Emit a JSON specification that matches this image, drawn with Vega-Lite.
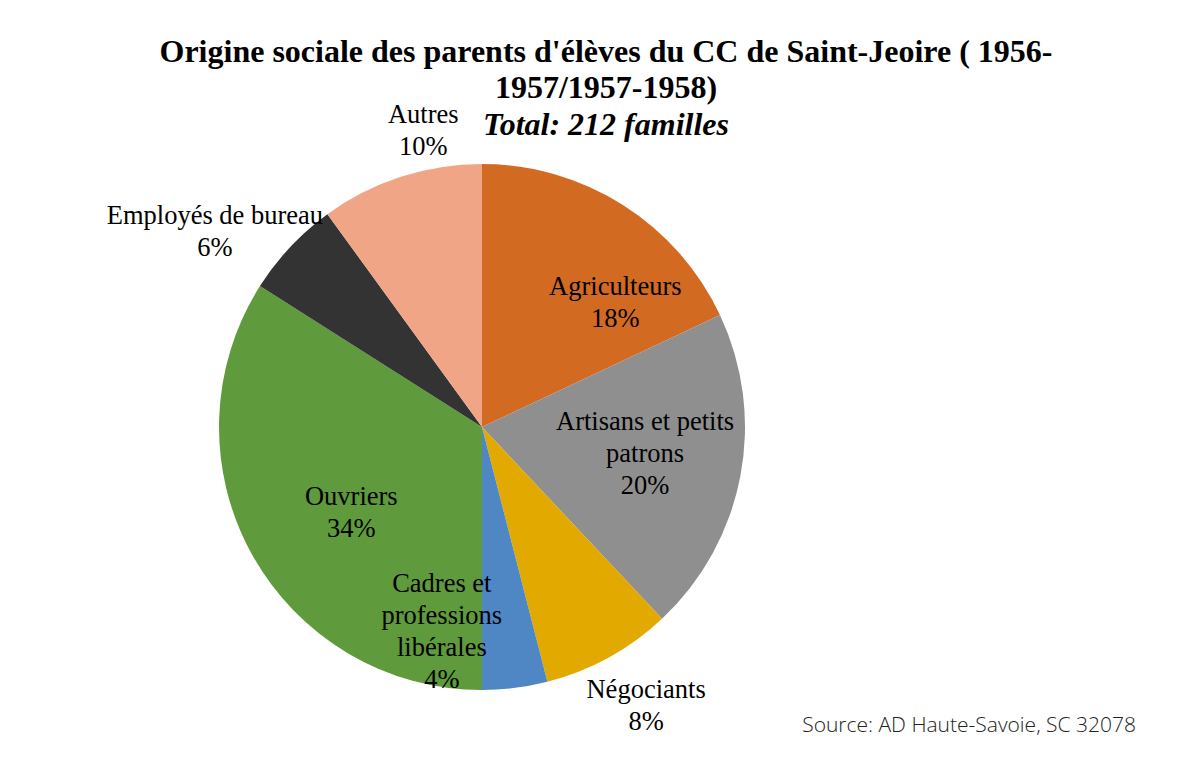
{
  "$schema": "https://vega.github.io/schema/vega-lite/v6.json",
  "width": 964,
  "height": 554,
  "autosize": {"type": "none"},
  "padding": {"left": 0, "top": 150, "right": 228, "bottom": 54},
  "background": "white",
  "config": {"view": {"stroke": null}},
  "title": {
    "text": ["Origine sociale des parents d'élèves du CC de Saint-Jeoire ( 1956-", "1957/1957-1958)"],
    "subtitle": "Total: 212 familles",
    "anchor": "middle",
    "dx": 124,
    "offset": -57,
    "font": "Liberation Serif",
    "fontSize": 32,
    "fontWeight": "bold",
    "color": "#000000",
    "lineHeight": 36,
    "subtitleFont": "Liberation Serif",
    "subtitleFontSize": 32,
    "subtitleFontWeight": "bold",
    "subtitleFontStyle": "italic",
    "subtitleColor": "#000000",
    "subtitleLineHeight": 36,
    "subtitlePadding": 5
  },
  "data": {
    "values": [
      {"cat": "Agriculteurs", "pct": 18, "rank": 1, "label": "Agriculteurs\n18%"},
      {"cat": "Artisans et petits patrons", "pct": 20, "rank": 2, "label": "Artisans et petits\npatrons\n20%"},
      {"cat": "Négociants", "pct": 8, "rank": 3, "label": "Négociants\n8%"},
      {"cat": "Cadres et professions libérales", "pct": 4, "rank": 4, "label": "Cadres et\nprofessions\nlibérales\n4%"},
      {"cat": "Ouvriers", "pct": 34, "rank": 5, "label": "Ouvriers\n34%"},
      {"cat": "Employés de bureau", "pct": 6, "rank": 6, "label": "Employés de bureau\n6%"},
      {"cat": "Autres", "pct": 10, "rank": 7, "label": "Autres\n10%"}
    ]
  },
  "layer": [
    {
      "mark": {"type": "arc", "radius": 263},
      "encoding": {
        "theta": {"field": "pct", "type": "quantitative", "stack": true},
        "order": {"field": "rank", "type": "quantitative"},
        "color": {
          "field": "cat",
          "type": "nominal",
          "scale": {
            "domain": ["Agriculteurs", "Artisans et petits patrons", "Négociants", "Cadres et professions libérales", "Ouvriers", "Employés de bureau", "Autres"],
            "range": ["#D26A22", "#8F8F8F", "#E2AA00", "#4F86C4", "#5F9A3C", "#333333", "#F0A586"]
          },
          "legend": null
        }
      }
    },
    {
      "mark": {"type": "text", "radius": 176, "dx": 39, "dy": 9, "font": "Liberation Serif", "fontSize": 26.5, "lineHeight": 32, "lineBreak": "\n", "align": "center", "baseline": "middle", "color": "#000000"},
      "encoding": {
        "theta": {"field": "pct", "type": "quantitative", "stack": true},
        "order": {"field": "rank", "type": "quantitative"},
        "detail": {"field": "cat", "type": "nominal"},
        "text": {"condition": {"test": "datum.cat === 'Agriculteurs'", "field": "label"}, "value": ""}
      }
    },
    {
      "mark": {"type": "text", "radius": 166, "dx": 0, "dy": -36, "font": "Liberation Serif", "fontSize": 26.5, "lineHeight": 32, "lineBreak": "\n", "align": "center", "baseline": "middle", "color": "#000000"},
      "encoding": {
        "theta": {"field": "pct", "type": "quantitative", "stack": true},
        "order": {"field": "rank", "type": "quantitative"},
        "detail": {"field": "cat", "type": "nominal"},
        "text": {"condition": {"test": "datum.cat === 'Artisans et petits patrons'", "field": "label"}, "value": ""}
      }
    },
    {
      "mark": {"type": "text", "radius": 324, "dx": 8, "dy": -21, "font": "Liberation Serif", "fontSize": 26.5, "lineHeight": 32, "lineBreak": "\n", "align": "center", "baseline": "middle", "color": "#000000"},
      "encoding": {
        "theta": {"field": "pct", "type": "quantitative", "stack": true},
        "order": {"field": "rank", "type": "quantitative"},
        "detail": {"field": "cat", "type": "nominal"},
        "text": {"condition": {"test": "datum.cat === 'Négociants'", "field": "label"}, "value": ""}
      }
    },
    {
      "mark": {"type": "text", "radius": 198, "dx": -65, "dy": -39, "font": "Liberation Serif", "fontSize": 26.5, "lineHeight": 32, "lineBreak": "\n", "align": "center", "baseline": "middle", "color": "#000000"},
      "encoding": {
        "theta": {"field": "pct", "type": "quantitative", "stack": true},
        "order": {"field": "rank", "type": "quantitative"},
        "detail": {"field": "cat", "type": "nominal"},
        "text": {"condition": {"test": "datum.cat === 'Cadres et professions libérales'", "field": "label"}, "value": ""}
      }
    },
    {
      "mark": {"type": "text", "radius": 156, "dx": 6, "dy": -5, "font": "Liberation Serif", "fontSize": 26.5, "lineHeight": 32, "lineBreak": "\n", "align": "center", "baseline": "middle", "color": "#000000"},
      "encoding": {
        "theta": {"field": "pct", "type": "quantitative", "stack": true},
        "order": {"field": "rank", "type": "quantitative"},
        "detail": {"field": "cat", "type": "nominal"},
        "text": {"condition": {"test": "datum.cat === 'Ouvriers'", "field": "label"}, "value": ""}
      }
    },
    {
      "mark": {"type": "text", "radius": 328, "dx": -28, "dy": 14, "font": "Liberation Serif", "fontSize": 26.5, "lineHeight": 32, "lineBreak": "\n", "align": "center", "baseline": "middle", "color": "#000000"},
      "encoding": {
        "theta": {"field": "pct", "type": "quantitative", "stack": true},
        "order": {"field": "rank", "type": "quantitative"},
        "detail": {"field": "cat", "type": "nominal"},
        "text": {"condition": {"test": "datum.cat === 'Employés de bureau'", "field": "label"}, "value": ""}
      }
    },
    {
      "mark": {"type": "text", "radius": 300, "dx": 34, "dy": -27, "font": "Liberation Serif", "fontSize": 26.5, "lineHeight": 32, "lineBreak": "\n", "align": "center", "baseline": "middle", "color": "#000000"},
      "encoding": {
        "theta": {"field": "pct", "type": "quantitative", "stack": true},
        "order": {"field": "rank", "type": "quantitative"},
        "detail": {"field": "cat", "type": "nominal"},
        "text": {"condition": {"test": "datum.cat === 'Autres'", "field": "label"}, "value": ""}
      }
    },
    {
      "data": {"values": [{"source": "Source: AD Haute-Savoie, SC 32078"}]},
      "mark": {"type": "text", "x": {"expr": "width + 172"}, "y": {"expr": "height + 28"}, "align": "right", "baseline": "alphabetic", "font": "Open Sans", "fontSize": 21, "fontWeight": 300, "color": "#222222"},
      "encoding": {
        "text": {"field": "source", "type": "nominal"}
      }
    }
  ]
}
